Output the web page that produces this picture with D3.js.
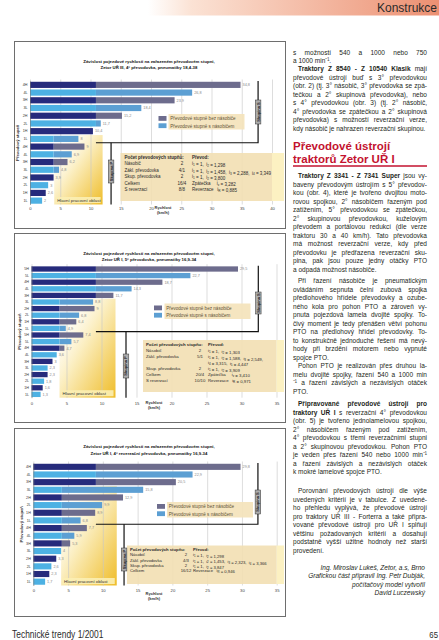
<!DOCTYPE html>
<html><head><meta charset="utf-8">
<script src="https://cdn.jsdelivr.net/npm/d3@7/dist/d3.min.js"></script>
<style>
html,body{margin:0;padding:0;background:#fff;}
svg{display:block;}
text{font-family:"Liberation Sans",Arial,Helvetica,sans-serif;}
.pre{white-space:pre;}
</style></head><body>
<svg id="page" width="439" height="640"></svg>
<script>
// ---------------- DATA ----------------
const gears4 = ["4H","4L","3H","3L","2H","2L","1H","1L","4H","4L","3H","3L","2H","2L","1H","1L"];
const gears5 = ["5H","5L","4H","4L","3H","3L","2H","2L","1H","1L","5H","5L","4H","4L","3H","3L","2H","2L","1H","1L"];
const speeds1 = [34.8,26.8,23.9,18.4,15.2,11.7,10.4,8.0, 9.0,6.9,6.2,4.8,3.9,3,2.6,2];
const speeds2 = [29.5,22.7,18.7,14.3,11.7,8.8,9.0,6.8,6.4,4.9, 7.4,5.7,4.7,3.6,3,2.3,2.3,1.8,1.6,1.3];
const speeds3 = [29.8,22.9,20.5,15.8,12.9,9.9,8.9,6.8, 7.7,5.9,5.3,4,3.3,2.6,2.3,1.7];
const ticks40 = [0,5,10,15,20,25,30,35,40];
const ticks35 = [0,5,10,15,20,25,30,35];
const titleMain = "Závislost pojezdové rychlosti na zařazeném převodovém stupni,";
const subtitles = [
  "Zetor UŘ III, 4° převodovka, pneumatiky 18,4-38",
  "Zetor UŘ I, 5° převodovka, pneumatiky 16,9-34",
  "Zetor UŘ I, 4° reverzační převodovka, pneumatiky 16,9-34"
];
const legendLabels = ["Převodové stupně bez násobiče","Převodové stupně s násobičem"];
const workLabel = "Hlavní pracovní oblast";
const workRange = [4,12];
const table1 = [
 ["Počet převodových stupňů:","","Převod:"],
 ["Násobič","2","i_1 = 1,  i_2 = 1,298"],
 ["Zákl. převodovka","4/1","i_1 = 1,  i_2 = 1,458,  i_3 = 2,288,  i_4 = 3,349"],
 ["Skup. převodovka","2","i_1 = 1,  i_2 = 3,800"],
 ["Celkem","16/4","Zpátečka     i_z = 3,282"],
 ["S reverzací","8/8","Reverzace   i_R = 0,885"]
];
const table2 = [
 ["Počet převodových stupňů:","","Převod:"],
 ["Násobič","2","i_1 = 1,  i_2 = 1,303"],
 ["Zákl. převodovka","5/1","i_1 = 1,  i_2 = 1,588,  i_3 = 2,549,"],
 ["","","i_4 = 3,315,  i_5 = 4,447"],
 ["Skup. převodovka","2","i_1 = 1,  i_2 = 3,909"],
 ["Celkem","20/4","Zpátečka     i_z = 3,410"],
 ["S reverzací","10/10","Reverzace   i_R = 0,971"]
];
const table3 = [
 ["Počet převodových stupňů:","","Převod:"],
 ["Násobič","2","i_1 = 1,  i_2 = 1,298"],
 ["Zákl. převodovka","4/3","i_1 = 1,  i_2 = 1,453,  i_3 = 2,323,  i_4 = 3,366"],
 ["Skup. převodovka","2","i_1 = 1,  i_2 = 3,847"],
 ["Celkem","16/12","Reverzace   i_R = 0,946"]
];

// ---------------- STYLE / LAYOUT ----------------
const C = {navy:"#262b7c", light:"#4db1e3", purple:"#6d6c8d", mid:"#5c9fd3"};
const svg = d3.select("#page");
const defs = svg.append("defs");
const hg = defs.append("linearGradient").attr("id","hdr").attr("x1",0).attr("x2",1).attr("y1",0).attr("y2",0);
hg.append("stop").attr("offset","0%").attr("stop-color","#ffffff");
hg.append("stop").attr("offset","15%").attr("stop-color","#fbe2d4");
hg.append("stop").attr("offset","100%").attr("stop-color","#ec9072");
const wg = defs.append("linearGradient").attr("id","work").attr("x1",0).attr("x2",1).attr("y1",0).attr("y2",1);
wg.append("stop").attr("offset","0%").attr("stop-color","#ffffff").attr("stop-opacity",0);
wg.append("stop").attr("offset","45%").attr("stop-color","#fbeec0");
wg.append("stop").attr("offset","100%").attr("stop-color","#efbd2a");

const fmt = v => Number.isInteger(v) ? String(v) : d3.format(".1f")(v).replace(".", ",");

function subText(sel, str){
  const parts = str.split(/(i_[0-9zR])/);
  parts.forEach(p=>{
    if(/^i_/.test(p)){
      sel.append("tspan").text("i");
      sel.append("tspan").attr("font-size","70%").attr("dy",0.9).text(p.slice(2));
      sel.append("tspan").attr("dy",-0.9).text("");
    } else if(p) sel.append("tspan").text(p);
  });
}

const charts = [
 {gears:gears4, speeds:speeds1, xMax:40, ticks:ticks40, sub:subtitles[0], table:table1,
  box:[14,41,285,228], plot:[30,81,272,204.5], titleY:[62.5,68.8], tickY:210.3,
  axisT:{x:163,y1:209,y2:214}, yTitleX:18.5, wideRows:7, capHigh:10.9, capLow:3.9,
  legend:{sx:158.5,bgx:168.5,bgw:76,y0:114},
  tl:{x0:120.5,y0:153,y1:201,c1:124.5,c2:182,c3:192,r0:158.8,dr:6.5,fs:4.5},
  skS:{v:37.7,y0:100,y1:124}, skP:{v:13.4,y0:160,y1:183}},
 {gears:gears5, speeds:speeds2, xMax:35, ticks:ticks35, sub:subtitles[1], table:table2,
  box:[14,233,285,422], plot:[31.5,265.7,276.5,397.7], titleY:[254.5,261.3], tickY:404.8,
  axisT:{x:154,y1:403.8,y2:408.8}, yTitleX:20.5, wideRows:5, capHigh:9.2, capLow:4.0,
  legend:{sx:154,bgx:164.5,bgw:86,y0:303.5},
  tl:{x0:143,y0:340,y1:392,c1:146,c2:200,c3:208,r0:346,dr:6,fs:4.3},
  skS:{v:32.4,y0:292,y1:314}, skP:{v:13.5,y0:354,y1:378}},
 {gears:gears4, speeds:speeds3, xMax:35, ticks:ticks35, sub:subtitles[2], table:table3,
  box:[14,428,285,616], plot:[33.3,463,276.7,585.5], titleY:[448,454.5], tickY:591.8,
  axisT:{x:154,y1:594.5,y2:599.5}, yTitleX:23, wideRows:3, capHigh:9.0, capLow:4.1,
  legend:{sx:157,bgx:167,bgw:86,y0:502},
  tl:{x0:127,y0:545.5,y1:584,c1:130,c2:186,c3:193,r0:551,dr:5.3,fs:4.2},
  skS:{v:32.3,y0:490,y1:514}, skP:{v:13.05,y0:548,y1:571}}
];

function drawChart(c){
  const g = svg.append("g");
  const [bx0,by0,bx1,by1] = c.box;
  g.append("rect").attr("x",bx0+0.5).attr("y",by0+0.5).attr("width",bx1-bx0).attr("height",by1-by0)
    .attr("fill","#fff").attr("stroke","#6e6e6e").attr("stroke-width",1);
  const [px0,py0,px1,py1] = c.plot;
  const x = d3.scaleLinear().domain([0,c.xMax]).range([px0,px1]);
  const n = c.speeds.length, half = n/2;
  const y = d3.scaleBand().domain(d3.range(n)).range([py0,py1]).paddingInner(0.2).paddingOuter(0.1);
  const edge = i => y(i) - y.step()*0.1;

  g.append("text").attr("x",149).attr("y",c.titleY[0]).attr("text-anchor","middle")
    .attr("font-size",4.3).attr("font-weight","bold").attr("fill","#111").text(titleMain);
  g.append("text").attr("x",149).attr("y",c.titleY[1]).attr("text-anchor","middle")
    .attr("font-size",4.3).attr("font-weight","bold").attr("fill","#111").text(c.sub);

  const wy = edge(c.wideRows);
  g.append("rect").attr("x",x(workRange[0])).attr("y",wy)
    .attr("width",x(workRange[1])-x(workRange[0])).attr("height",py1-wy).attr("fill","url(#work)");

  const grid = g.append("g").attr("transform",`translate(0,${py1})`)
    .call(d3.axisBottom(x).tickValues(c.ticks).tickSize(-(py1-py0+1.5)).tickFormat(""));
  grid.select(".domain").remove();
  grid.selectAll("line").attr("stroke","#c6c6c6").attr("stroke-width",0.6);

  const rows = c.speeds.map((v,i)=>({v,i,cap:i<c.wideRows?c.capHigh:c.capLow,h:i%2===0}));
  g.selectAll("rect.ext").data(rows.filter(d=>d.v>d.cap)).join("rect").attr("class","ext")
    .attr("x",d=>x(d.cap)).attr("y",d=>y(d.i)).attr("width",d=>x(d.v)-x(d.cap))
    .attr("height",y.bandwidth()).attr("fill",d=>d.h?C.purple:C.mid);
  g.selectAll("rect.base").data(rows).join("rect").attr("class","base")
    .attr("x",x(0)).attr("y",d=>y(d.i)).attr("width",d=>x(Math.min(d.v,d.cap))-x(0))
    .attr("height",y.bandwidth()).attr("fill",d=>d.h?C.navy:C.light);
  g.selectAll("text.vl").data(rows).join("text").attr("class","vl")
    .attr("x",d=>x(d.v)+2).attr("y",d=>y(d.i)+y.bandwidth()/2+1.3)
    .attr("font-size",3.8).attr("fill","#8a8a8a").text(d=>fmt(d.v));

  const ya = g.append("g").attr("transform",`translate(${px0},0)`)
    .call(d3.axisLeft(y).tickSize(0).tickPadding(2.5).tickFormat(i=>c.gears[i]));
  ya.select(".domain").attr("stroke","#777").attr("stroke-width",0.6);
  ya.selectAll("text").attr("font-size",3.7).attr("fill","#333");
  const xa = g.append("g").attr("transform",`translate(0,${c.tickY})`)
    .call(d3.axisBottom(x).tickValues(c.ticks).tickSize(0).tickPadding(0));
  xa.select(".domain").remove();
  xa.selectAll("text").attr("y",0).attr("dy",0).attr("font-size",4.2).attr("fill","#444");
  g.append("text").attr("x",c.axisT.x).attr("y",c.axisT.y1).attr("text-anchor","middle")
    .attr("font-size",4).attr("font-weight","bold").attr("fill","#333").text("Rychlost");
  g.append("text").attr("x",c.axisT.x).attr("y",c.axisT.y2).attr("text-anchor","middle")
    .attr("font-size",4).attr("font-weight","bold").attr("fill","#333").text("(km/h)");
  g.append("text").attr("transform",`translate(${c.yTitleX},${(py0+py1)/2}) rotate(-90)`)
    .attr("text-anchor","middle").attr("font-size",4.2).attr("font-weight","bold").attr("fill","#333")
    .text("Převodový stupeň");

  const lx = x(workRange[0])+2.5;
  g.append("rect").attr("x",lx-1).attr("y",py1-7.5).attr("width",x(workRange[1])-lx-1).attr("height",6)
    .attr("fill","#fbeeb4").attr("opacity",0.9);
  g.append("text").attr("x",lx+0.5).attr("y",py1-3).attr("font-size",4.4).attr("fill","#333").text(workLabel);

  const bY = edge(half);
  g.append("path").attr("d",`M${x(c.skS.v)},${py0}V${bY}H${x(c.capHigh)}`)
    .attr("fill","none").attr("stroke","#111").attr("stroke-width",1.2);
  g.append("path").attr("d",`M${x(c.skP.v)},${bY}V${py1}`)
    .attr("fill","none").attr("stroke","#111").attr("stroke-width",1.2);

  const L = c.legend;
  g.append("rect").attr("x",L.bgx).attr("y",L.y0).attr("width",L.bgw).attr("height",15.5)
    .attr("fill","#f4e3bb").attr("opacity",0.92);
  [C.purple,C.mid].forEach((col,k)=>{
    g.append("rect").attr("x",L.sx).attr("y",L.y0+2+k*7.3).attr("width",8).attr("height",4.8).attr("fill",col);
    g.append("text").attr("x",L.bgx+1.8).attr("y",L.y0+6.3+k*7.3).attr("font-size",4.6)
      .attr("fill","#5e5236").text(legendLabels[k]);
  });

  const T = c.tl;
  g.append("rect").attr("x",T.x0).attr("y",T.y0).attr("width",px1-T.x0).attr("height",T.y1-T.y0)
    .attr("fill","#f2dfb2").attr("opacity",0.9);
  g.append("rect").attr("x",px1).attr("y",T.y0).attr("width",bx1-px1-1).attr("height",T.y1-T.y0)
    .attr("fill","#fcf1c2");
  c.table.forEach((r,k)=>{
    const yy = T.r0 + k*T.dr;
    const b = k===0 ? "bold" : null;
    g.append("text").attr("x",T.c1).attr("y",yy).attr("font-size",T.fs).attr("font-weight",b).attr("fill","#2a2a2a").text(r[0]);
    g.append("text").attr("x",T.c2).attr("y",yy).attr("text-anchor","middle").attr("font-size",T.fs).attr("fill","#2a2a2a").text(r[1]);
    const t3 = g.append("text").attr("class","pre").attr("x",T.c3).attr("y",yy).attr("font-size",T.fs)
      .attr("font-weight",b).attr("fill","#2a2a2a");
    subText(t3,r[2]);
  });

  function sk(xc,y0,y1,label){
    g.append("rect").attr("x",xc-2.8).attr("y",y0).attr("width",5.6).attr("height",y1-y0)
      .attr("fill","#acacac").attr("stroke","#333").attr("stroke-width",0.5);
    g.append("text").attr("transform",`translate(${xc+1.45},${(y0+y1)/2}) rotate(-90)`)
      .attr("text-anchor","middle").attr("font-size",4).attr("font-weight","bold").attr("fill","#1a1a1a").text(label);
  }
  sk(x(c.skS.v),c.skS.y0,c.skS.y1,"Skupina S");
  sk(x(c.skP.v),c.skP.y0,c.skP.y1,"Skupina P");
}
charts.forEach(drawChart);

// ---------------- PAGE FURNITURE ----------------
svg.append("rect").attr("x",148).attr("y",0).attr("width",291).attr("height",15.5).attr("fill","url(#hdr)");
svg.append("text").attr("x",437).attr("y",11.5).attr("text-anchor","end").attr("font-size",12)
  .attr("fill","#2b2b2b").text("Konstrukce");

const col = {x:293, w:134, fs:7.6, cond:0.86};
function bodyLine(str, y, o){
  const ind = o.indent ? 5 : 0;
  const gx = o.right ? col.x + col.w - 2 : col.x + ind;
  const g = svg.append("g").attr("transform",`translate(${gx},${y}) scale(${col.cond},1)`);
  const t = g.append("text").attr("font-size",col.fs).attr("fill","#231f20")
    .attr("text-anchor",o.right?"end":"start").attr("font-style",o.italic?"italic":null);
  str.split("**").forEach((s,k)=>{ if(s) t.append("tspan").attr("font-weight",k%2?"bold":null).text(s); });
  if(o.justify){
    const target = (col.w-ind)/col.cond;
    const w = t.node().getComputedTextLength();
    const nsp = (str.replace(/\*\*/g,"").match(/ /g)||[]).length;
    if(nsp>0){
      t.style("word-spacing",((target-w)/nsp)+"px");
      const w2 = t.node().getComputedTextLength();
      if(Math.abs(w2-target)>1){ t.style("word-spacing",null); t.attr("textLength",target).attr("lengthAdjust","spacing"); }
    }
  }
}
function block(paras, y0, lh){
  let y = y0, first = true;
  paras.forEach(p=>{
    if(!first) y += lh + (p.gap||0);
    p.lines.forEach((ln,k)=>{
      if(k>0) y += lh;
      bodyLine(ln, y, {indent:p.indent&&k===0, justify:!p.right && k<p.lines.length-1, right:p.right, italic:p.italic});
    });
    first = false;
  });
}
block([
 {indent:false, lines:["s možností 540 a 1000 nebo 750","a 1000 min⁻¹."]},
 {indent:true, lines:["**Traktory Z 8540 - Z 10540 Klasik** mají","převodové ústrojí buď s 3° převodovkou",
   "(obr. 2) (tj. 3° násobič, 3° převodovka se zpá-","tečkou a 2° skupinová převodovka), nebo",
   "s 4° převodovkou (obr. 3) (tj. 2° násobič,","4° převodovka se zpátečkou a 2° skupinová",
   "převodovka) s možností reverzační verze,","kdy násobič je nahrazen reverzační skupinou."]}
], 54.5, 8.45);

svg.append("text").attr("x",293).attr("y",150).attr("font-size",11.5).attr("font-weight","bold")
  .attr("fill","#c3122f").text("Převodové ústrojí");
svg.append("text").attr("x",293).attr("y",163.3).attr("font-size",11.5).attr("font-weight","bold")
  .attr("fill","#c3122f").text("traktorů Zetor UŘ I");
svg.append("line").attr("x1",293).attr("x2",427).attr("y1",166).attr("y2",166)
  .attr("stroke","#c3122f").attr("stroke-width",1.3);

block([
 {indent:true, lines:["**Traktory Z 3341 - Z 7341 Super** jsou vy-","baveny převodovým ústrojím s 5° převodov-",
  "kou (obr. 4), které je tvořeno dvojitou moto-","rovou spojkou, 2° násobičem řazeným pod",
  "zatížením, 5° převodovkou se zpátečkou,","2° skupinovou převodovkou, kuželovým",
  "převodem a portálovou redukcí (dle verze","traktoru 30 a 40 km/h). Tato převodovka",
  "má možnost reverzační verze, kdy před","převodovku je předřazena reverzační sku-",
  "pina, pak jsou pouze jedny otáčky PTO","a odpadá možnost násobiče."]},
 {indent:true, gap:3, lines:["Při řazení násobiče je pneumatickým","ovládáním sepnuta čelní zubová spojka",
  "předlohového hřídele převodovky a ozube-","ného kola pro pohon PTO a zároveň vy-",
  "pnuta pojezdová lamela dvojité spojky. To-","čivý moment je tedy přenášen větví pohonu",
  "PTO na předlohový hřídel převodovky. To-","to konstrukčně jednoduché řešení má nevý-",
  "hody při brzdění motorem nebo vypnuté","spojce PTO."]},
 {indent:true, gap:0, lines:["Pohon PTO je realizován přes druhou la-","melu dvojité spojky, řazení 540 a 1000 min",
  "⁻¹ a řazení závislých a nezávislých otáček","PTO."]},
 {indent:true, gap:4, lines:["**Připravované převodové ústrojí pro**","**traktory UŘ I** s reverzační 4° převodovkou",
  "(obr. 5) je tvořeno jednolamelovou spojkou,","2° násobičem řazeným pod zatížením,",
  "4° převodovkou s třemi reverzačními stupni","a 2° skupinovou převodovkou. Pohon PTO",
  "je veden přes řazení 540 nebo 1000 min⁻¹","a řazení závislých a nezávislých otáček",
  "k mokré lamelové spojce PTO."]},
 {indent:true, gap:10.5, lines:["Porovnání převodových ústrojí dle výše","uvedených kritérií je v tabulce. Z uvedené-",
  "ho přehledu vyplývá, že převodové ústrojí","pro traktory UŘ III - Forterra a také připra-",
  "vované převodové ústrojí pro UŘ I splňují","většinu požadovaných kritérií a dosahují",
  "podstatně vyšší užitné hodnoty než starší","provedení."]},
 {right:true, italic:true, gap:8.5, lines:["Ing. Miroslav Lukeš, Zetor, a.s, Brno","Grafickou část připravil Ing. Petr Dubják,",
  "počítačový model vytvořil","David Luczewský"]}
], 178, 8.5);

svg.append("g").attr("transform","translate(12,637.6) scale(0.82,1)").append("text")
  .attr("font-size",10.3).attr("fill","#2b2b2b").text("Technické trendy 1/2001");
svg.append("g").attr("transform","translate(438,637.6) scale(0.82,1)").append("text")
  .attr("text-anchor","end").attr("font-size",9.5).attr("fill","#2b2b2b").text("65");
</script>
</body></html>
